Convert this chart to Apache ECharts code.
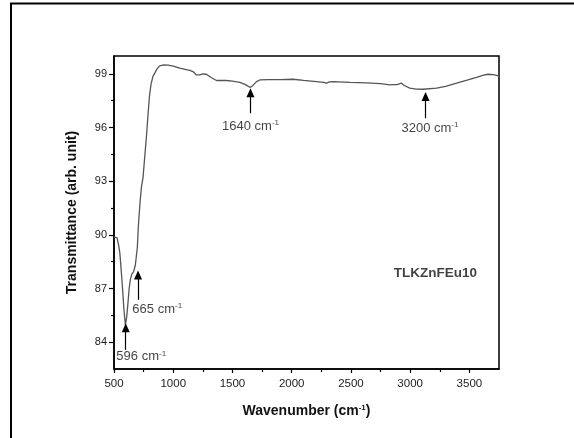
<!DOCTYPE html>
<html>
<head>
<meta charset="utf-8">
<script src="https://cdn.jsdelivr.net/npm/echarts@6/dist/echarts.min.js"></script>
<style>
  html, body { margin: 0; padding: 0; background: #fff; }
  #chart { width: 574px; height: 438px; }
</style>
</head>
<body>
<div id="chart"></div>
<script>
// FTIR spectrum
const wavenumber = [
  500, 510, 525, 540, 549, 560, 571, 583, 596, 607, 618, 628, 638, 650, 666, 680,
  697, 705, 712, 722, 732, 745, 760, 775, 788, 800, 812, 828, 844, 865, 886, 920,
  956, 1000, 1055, 1100, 1139, 1167, 1196, 1224, 1250, 1280, 1320, 1365, 1449, 1500,
  1562, 1610, 1646, 1665, 1703, 1731, 1800, 1900, 2012, 2100, 2209, 2270, 2294, 2320,
  2350, 2491, 2632, 2750, 2829, 2860, 2871, 2890, 2927, 2950, 2997, 3050, 3110, 3223,
  3300, 3392, 3480, 3561, 3620, 3659, 3700, 3750
]
const transmittance = [
  89.87, 89.9, 89.85, 89.4, 89.0, 88.1, 87.1, 85.9, 84.97, 85.4, 86.2, 87.0, 87.5, 87.8, 87.95, 88.3,
  89.3, 90.4, 91.1, 92.0, 92.7, 93.2, 94.4, 95.6, 96.8, 97.8, 98.4, 98.85, 99.04, 99.3, 99.45, 99.5,
  99.49, 99.44, 99.32, 99.25, 99.19, 99.13, 98.94, 98.94, 99.0, 98.98, 98.8, 98.63, 98.63, 98.6,
  98.52, 98.4, 98.25, 98.3, 98.57, 98.66, 98.68, 98.68, 98.7, 98.64, 98.57, 98.52, 98.48, 98.55,
  98.57, 98.53, 98.5, 98.45, 98.39, 98.4, 98.48, 98.4, 98.48, 98.35, 98.2, 98.15, 98.14, 98.2,
  98.3, 98.48, 98.65, 98.81, 98.93, 98.98, 98.96, 98.89
]

// tick labels
const xLabelValues = [500, 1000, 1500, 2000, 2500, 3000, 3500]
const xMinorValues = [750, 1250, 1750, 2250, 2750, 3250]
const yLabelValues = [84, 87, 90, 93, 96, 99]
const yMinorValues = [85.5, 88.5, 91.5, 94.5, 97.5]

// peak annotations: arrow x, arrow tail, arrow tip, label left edge, label y
const peakNames = ['596 cm', '665 cm', '1640 cm', '3200 cm']
const arrowX = [599, 703, 1652, 3130]
const arrowTail = [83.57, 86.37, 96.8, 96.52]
const arrowTip = [84.8, 87.76, 97.95, 97.73]
const peakLabelX = [520, 655, 1412, 2927]
const peakLabelY = [83.18, 85.85, 96.09, 95.96]

const sampleName = 'TLKZnFEu10'
const samplePos = [2862, 87.86]

const font = 'Liberation Sans, Arial, sans-serif'
const myChart = echarts.init(document.getElementById('chart'))

const specData = wavenumber.map((w, i) => [w, transmittance[i]])
const peakData = peakNames.map((n, i) => [peakLabelX[i], peakLabelY[i], n])
const arrowLines = arrowX.map((x, i) => [
  { coord: [x, arrowTail[i]] },
  { coord: [x, arrowTip[i]] }
])

const option = {
  animation: false,
  backgroundColor: '#fff',
  grid: {
    left: 114,
    right: 75,
    top: 56,
    bottom: 69,
    show: true,
    borderColor: '#000',
    borderWidth: 1.5
  },
  xAxis: [
    {
      type: 'value',
      min: 500,
      max: 3750,
      position: 'bottom',
      name: '{t|Wavenumber (cm}{s|-1}{t|)}',
      nameLocation: 'middle',
      nameGap: 35,
      nameTextStyle: {
        rich: {
          t: { fontFamily: font, fontSize: 14, fontWeight: 'bold', color: '#111' },
          s: { fontFamily: font, fontSize: 8, fontWeight: 'bold', color: '#111', verticalAlign: 'top', padding: [0, 0, 7, 0] }
        }
      },
      axisLine: { show: true, lineStyle: { color: '#000', width: 1.5 } },
      axisTick: { show: true, length: 4, customValues: xLabelValues, lineStyle: { color: '#000', width: 1.2 } },
      axisLabel: {
        customValues: xLabelValues,
        margin: 9,
        fontFamily: font,
        fontSize: 11.5,
        color: '#222',
        formatter: v => String(v)
      },
      splitLine: { show: false }
    },
    {
      type: 'value',
      min: 500,
      max: 3750,
      position: 'bottom',
      axisLine: { show: false },
      axisTick: { show: true, length: 3, customValues: xMinorValues, lineStyle: { color: '#000', width: 1.2 } },
      axisLabel: { show: false },
      splitLine: { show: false }
    }
  ],
  yAxis: [
    {
      type: 'value',
      min: 82.5,
      max: 100,
      position: 'left',
      name: 'Transmittance (arb. unit)',
      nameLocation: 'middle',
      nameGap: 35,
      nameTextStyle: { fontFamily: font, fontSize: 14, fontWeight: 'bold', color: '#111' },
      axisLine: { show: true, lineStyle: { color: '#000', width: 1.5 } },
      axisTick: { show: true, length: 5, customValues: yLabelValues, lineStyle: { color: '#000', width: 1.2 } },
      axisLabel: { customValues: yLabelValues, margin: 7, fontFamily: font, fontSize: 11, color: '#222' },
      splitLine: { show: false }
    },
    {
      type: 'value',
      min: 82.5,
      max: 100,
      position: 'left',
      axisLine: { show: false },
      axisTick: { show: true, length: 3, customValues: yMinorValues, lineStyle: { color: '#000', width: 1.2 } },
      axisLabel: { show: false },
      splitLine: { show: false }
    }
  ],
  series: [
    {
      name: 'spectrum',
      type: 'line',
      data: specData,
      showSymbol: false,
      symbol: 'none',
      lineStyle: { color: '#555', width: 1.3 }
    },
    {
      name: 'peaks',
      type: 'scatter',
      data: peakData,
      symbolSize: 0,
      label: {
        show: true,
        position: 'right',
        distance: 0,
        formatter: p => '{t|' + p.data[2] + '}{s|-1}',
        rich: {
          t: { fontFamily: font, fontSize: 13, color: '#111' },
          s: { fontFamily: font, fontSize: 8, color: '#111', verticalAlign: 'top', padding: [0, 0, 7, 0] }
        }
      },
      markLine: {
        silent: true,
        symbol: ['none', 'triangle'],
        symbolSize: [8, 9],
        label: { show: false },
        lineStyle: { color: '#000', width: 1.2, type: 'solid' },
        data: arrowLines
      }
    },
    {
      name: 'sample',
      type: 'scatter',
      data: [[samplePos[0], samplePos[1], sampleName]],
      symbolSize: 0,
      label: {
        show: true,
        position: 'right',
        distance: 0,
        formatter: p => p.data[2],
        fontFamily: font,
        fontSize: 13.5,
        fontWeight: 'bold',
        color: '#111'
      }
    }
  ],
  graphic: [
    { type: 'line', shape: { x1: 11, y1: 3, x2: 11, y2: 438 }, style: { stroke: '#000', lineWidth: 2 } },
    { type: 'line', shape: { x1: 10, y1: 3.5, x2: 574, y2: 3.5 }, style: { stroke: '#000', lineWidth: 2 } }
  ]
}
myChart.setOption(option)
</script>
</body>
</html>
